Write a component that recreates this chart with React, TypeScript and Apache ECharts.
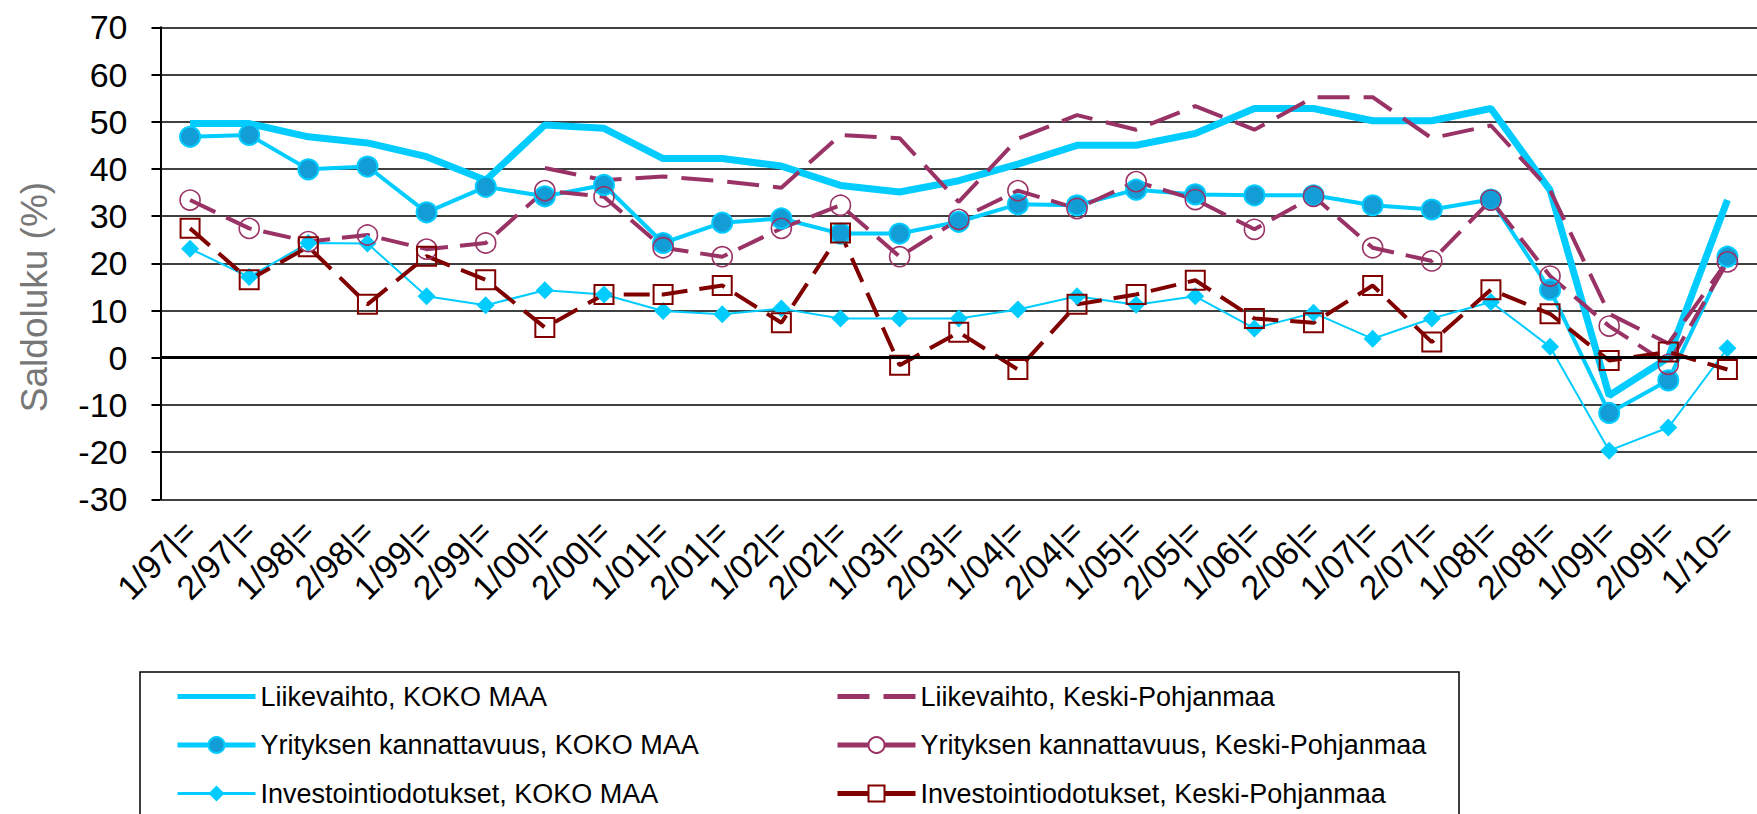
import React, { useEffect, useRef } from "react";
import * as echarts from "echarts";

const categories = [
  "1/97|=", "2/97|=", "1/98|=", "2/98|=", "1/99|=", "2/99|=", "1/00|=", "2/00|=", "1/01|=",
  "2/01|=", "1/02|=", "2/02|=", "1/03|=", "2/03|=", "1/04|=", "2/04|=", "1/05|=", "2/05|=",
  "1/06|=", "2/06|=", "1/07|=", "2/07|=", "1/08|=", "2/08|=", "1/09|=", "2/09|=", "1/10=",
];

const yTicks = { min: -30, max: 70, interval: 10 };

const liikevaihtoKoko = [49.6, 49.6, 46.8, 45.5, 42.6, 37.6, 49.3, 48.6, 42.2, 42.2, 40.6, 36.5, 35.1, 37.5, 41.0, 45.0, 45.0, 47.5, 52.8, 52.8, 50.2, 50.2, 52.8, 35.5, -8.0, 0.0, 33.4];
const kannattavuusKoko = [46.8, 47.2, 39.9, 40.5, 30.8, 36.2, 34.2, 36.6, 24.3, 28.6, 29.5, 26.3, 26.3, 28.8, 32.5, 32.3, 35.6, 34.6, 34.4, 34.4, 32.3, 31.4, 33.5, 14.4, -11.7, -4.8, 21.4];
const investointiKoko = [23.1, 17.1, 24.3, 24.2, 13.0, 11.1, 14.3, 13.4, 9.9, 9.2, 10.4, 8.3, 8.3, 8.3, 10.2, 13.0, 11.2, 13.0, 6.2, 9.5, 4.0, 8.3, 11.8, 2.3, -19.7, -14.8, 2.0];
const liikevaihtoKeski = [null, null, null, null, null, null, 40.2, 37.6, 38.4, 37.4, 36.0, 47.2, 46.5, 33.0, 46.4, 51.4, 48.3, 53.3, 48.3, 55.2, 55.2, 46.5, 49.2, 35.5, 9.3, 3.0, 20.5];
const kannattavuusKeski = [33.4, 27.4, 24.6, 26.0, 23.0, 24.3, 35.4, 34.1, 23.3, 21.4, 27.4, 32.3, 21.4, 29.3, 35.4, 31.6, 37.3, 33.5, 27.2, 34.2, 23.3, 20.5, 33.4, 17.3, 6.7, -1.4, 20.3];
const investointiKeski = [27.4, 16.5, 23.5, 11.3, 21.5, 16.5, 6.4, 13.4, 13.4, 15.3, 7.4, 26.4, -1.6, 5.4, -2.5, 11.3, 13.4, 16.4, 8.3, 7.4, 15.3, 3.3, 14.4, 9.3, -0.6, 1.2, -2.5];

const names = [
  "Liikevaihto, KOKO MAA",
  "Yrityksen kannattavuus, KOKO MAA",
  "Investointiodotukset, KOKO MAA",
  "Liikevaihto, Keski-Pohjanmaa",
  "Yrityksen kannattavuus, Keski-Pohjanmaa",
  "Investointiodotukset, Keski-Pohjanmaa",
];

const CYAN = "#00CCFF";
const PURPLE = "#993366";
const DARKRED = "#800000";
const FONT = "Liberation Sans, Arial, sans-serif";

export default function App() {
  const ref = useRef<HTMLDivElement>(null);
  useEffect(() => {
    const chart = echarts.init(ref.current!, null, { renderer: "svg" });
    const legendText = { fontSize: 27, fontFamily: FONT, color: "#000" };
    const hidden = { color: "rgba(0,0,0,0)", borderWidth: 0, borderColor: "rgba(0,0,0,0)" };
    const legendBase = {
      orient: "vertical",
      top: 683,
      height: 200,
      width: 700,
      itemWidth: 78,
      itemHeight: 20,
      itemGap: 21.5,
      padding: 0,
      selectedMode: false,
      textStyle: legendText,
    };
    chart.setOption({
      animation: false,
      backgroundColor: "#fff",
      grid: { left: 160.5, top: 27.3, width: 1612, height: 472, containLabel: false },
      xAxis: {
        type: "category",
        data: categories,
        boundaryGap: true,
        axisLine: { show: false },
        axisTick: { show: false },
        splitLine: { show: false },
        axisLabel: { interval: 0, rotate: 45, fontSize: 34, fontFamily: FONT, color: "#000", margin: 27 },
      },
      yAxis: {
        type: "value",
        min: yTicks.min,
        max: yTicks.max,
        interval: yTicks.interval,
        axisLine: { show: true, lineStyle: { color: "#000", width: 2 } },
        axisTick: { show: true, length: 9, lineStyle: { color: "#000", width: 2 } },
        axisLabel: { fontSize: 34, fontFamily: FONT, color: "#000", margin: 33 },
        splitLine: { show: true, lineStyle: { color: "#000", width: 1.6 } },
      },
      legend: [
        {
          ...legendBase,
          left: 175,
          data: [
            { name: names[0], lineStyle: { width: 5 }, itemStyle: hidden },
            { name: names[1], lineStyle: { width: 5 } },
            { name: names[2], lineStyle: { width: 3 } },
          ],
        },
        {
          ...legendBase,
          left: 835,
          data: [
            { name: names[3], lineStyle: { width: 5 }, itemStyle: hidden },
            { name: names[4], lineStyle: { width: 5, type: "solid" }, itemStyle: { color: "#fff" } },
            { name: names[5], lineStyle: { width: 5, type: "solid" }, itemStyle: { color: "#fff" } },
          ],
        },
      ],
      graphic: [
        {
          type: "rect",
          shape: { x: 140, y: 672, width: 1319, height: 200 },
          style: { fill: "none", stroke: "#000", lineWidth: 1.5 },
          silent: true,
        },
        {
          type: "text",
          x: 34,
          y: 297,
          rotation: Math.PI / 2,
          style: {
            text: "Saldoluku (%)",
            fontSize: 37,
            fontFamily: FONT,
            fill: "#777777",
            align: "center",
            verticalAlign: "middle",
          },
          silent: true,
        },
      ],
      series: [
        {
          name: names[0],
          type: "line",
          data: liikevaihtoKoko,
          symbol: "none",
          lineStyle: { color: CYAN, width: 7 },
          itemStyle: { color: CYAN },
          markLine: {
            silent: true,
            symbol: "none",
            label: { show: false },
            lineStyle: { color: "#000", width: 3, type: "solid" },
            data: [{ yAxis: 0 }],
          },
        },
        {
          name: names[1],
          type: "line",
          data: kannattavuusKoko,
          symbol: "circle",
          symbolSize: 20,
          lineStyle: { color: CYAN, width: 4 },
          itemStyle: { color: "#139dd6", borderColor: CYAN, borderWidth: 2 },
        },
        {
          name: names[2],
          type: "line",
          data: investointiKoko,
          symbol: "diamond",
          symbolSize: 18,
          lineStyle: { color: CYAN, width: 2 },
          itemStyle: { color: CYAN },
        },
        {
          name: names[3],
          type: "line",
          data: liikevaihtoKeski,
          symbol: "none",
          connectNulls: false,
          lineStyle: { color: PURPLE, width: 4, type: [32, 14] },
          itemStyle: { color: PURPLE },
        },
        {
          name: names[4],
          type: "line",
          data: kannattavuusKeski,
          symbol: "circle",
          symbolSize: 20,
          lineStyle: { color: PURPLE, width: 4, type: [28, 12] },
          itemStyle: { color: "rgba(255,255,255,0)", borderColor: PURPLE, borderWidth: 1.6 },
        },
        {
          name: names[5],
          type: "line",
          data: investointiKeski,
          symbol: "rect",
          symbolSize: 19,
          lineStyle: { color: DARKRED, width: 4, type: [26, 12] },
          itemStyle: { color: "rgba(255,255,255,0)", borderColor: DARKRED, borderWidth: 2 },
        },
      ],
    });
    return () => chart.dispose();
  }, []);
  return (
    <div
      ref={ref}
      style={{ position: "fixed", left: 0, top: 0, width: 1757, height: 814, background: "#fff" }}
    />
  );
}
